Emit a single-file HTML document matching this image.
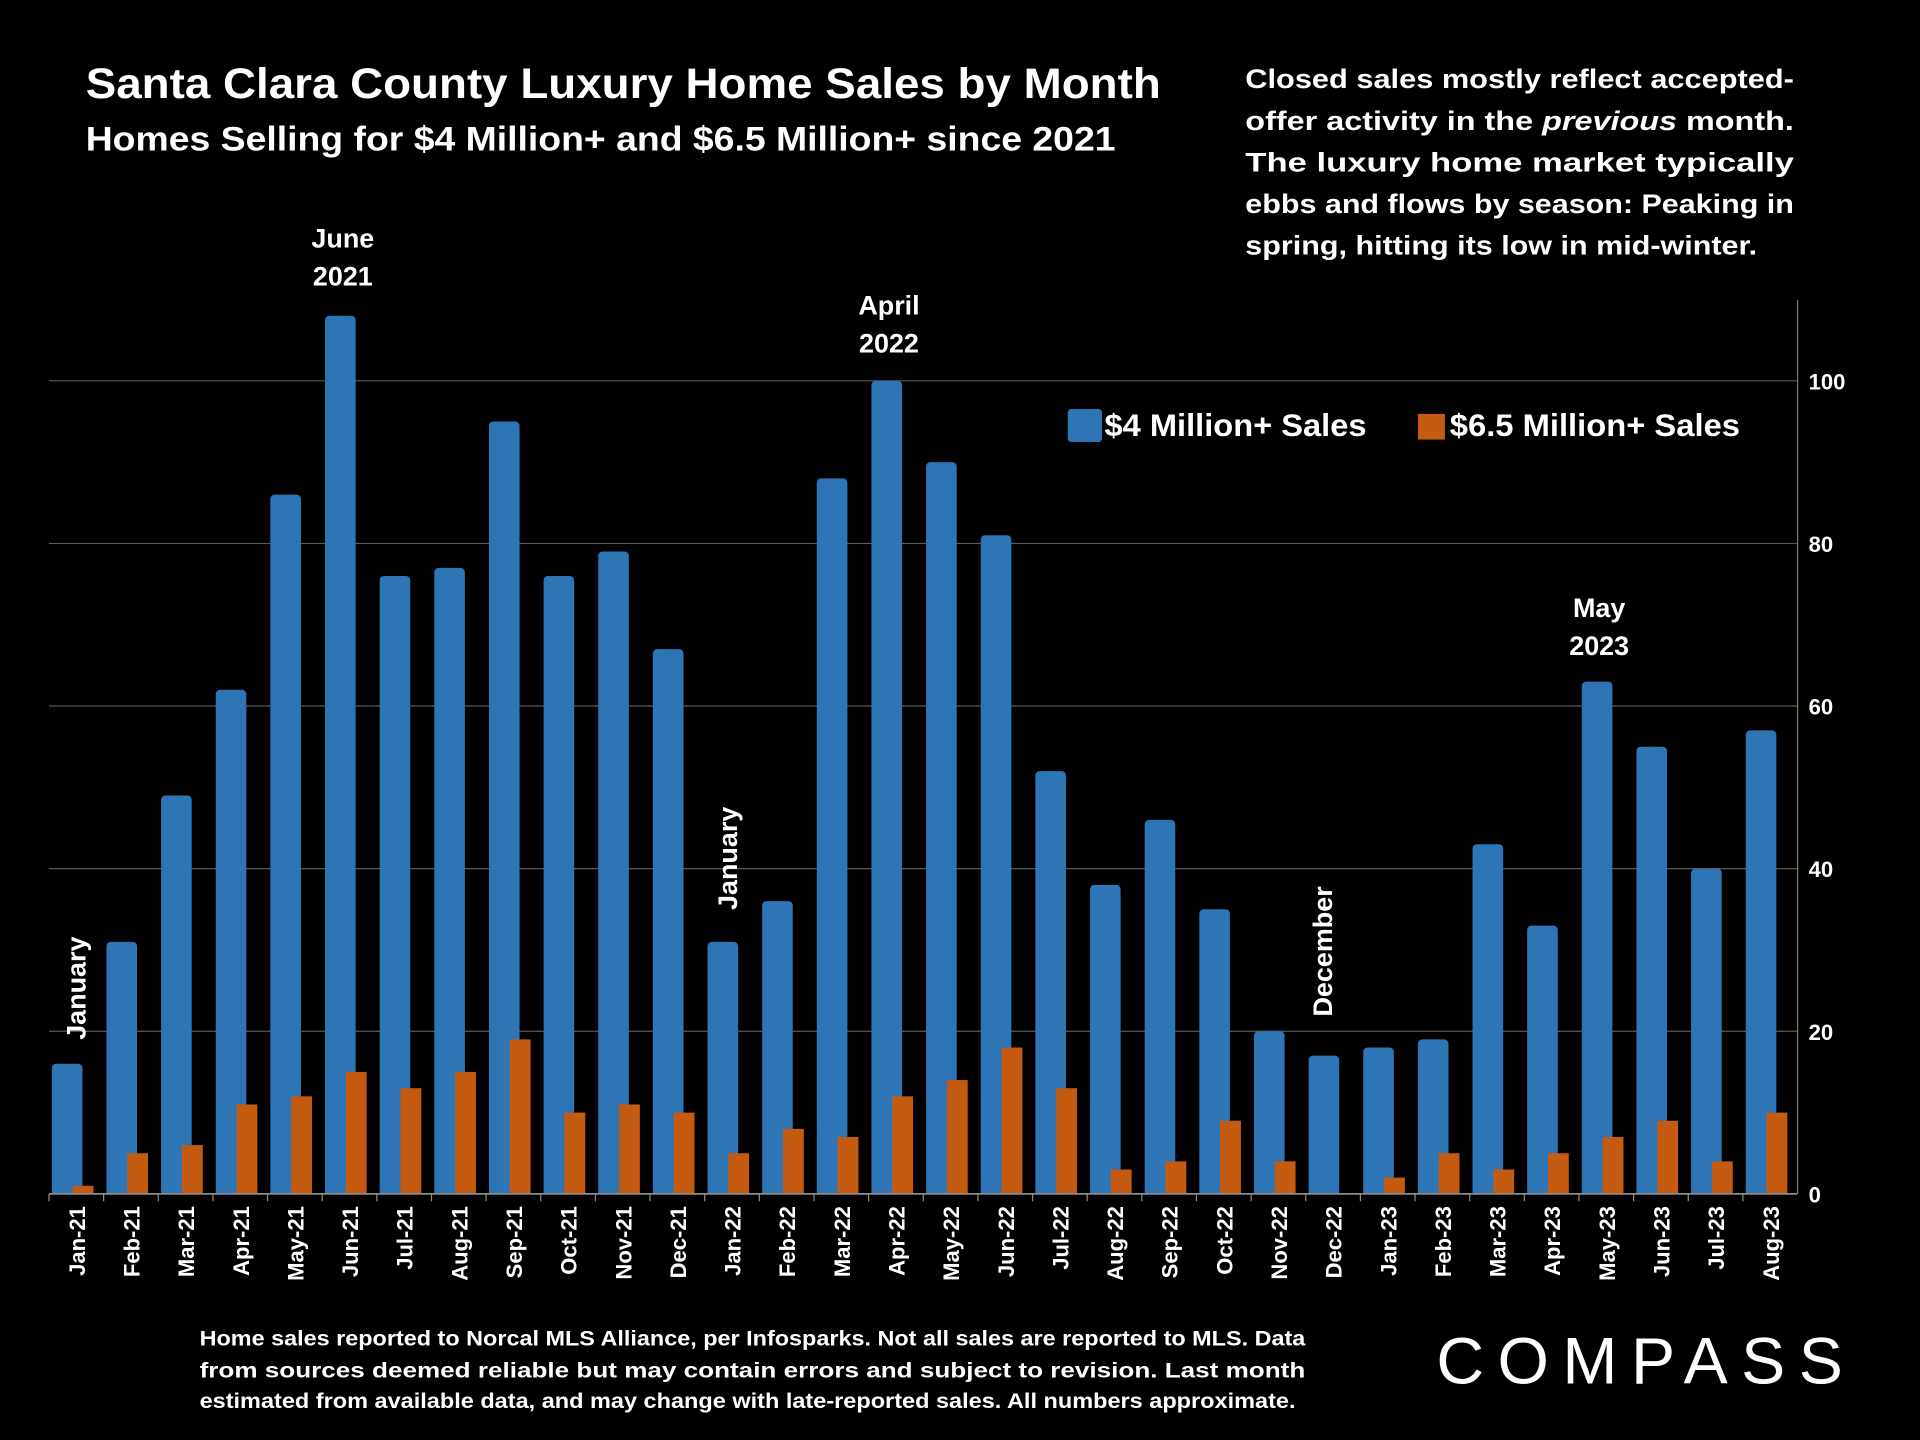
<!DOCTYPE html>
<html><head><meta charset="utf-8"><style>
html,body{margin:0;padding:0;background:#000;}
svg{display:block;}
text{font-family:"Liberation Sans",sans-serif;fill:#fff;font-weight:bold;}
</style></head><body>
<svg id="chart" width="1920" height="1440" viewBox="0 0 1568 1176" xmlns="http://www.w3.org/2000/svg">
<rect width="1568" height="1176" fill="#000"/>
<text x="70" y="80" font-size="35" textLength="878" lengthAdjust="spacingAndGlyphs">Santa Clara County Luxury Home Sales by Month</text>
<text x="70" y="123" font-size="28" textLength="841" lengthAdjust="spacingAndGlyphs">Homes Selling for $4 Million+ and $6.5 Million+ since 2021</text>
<g font-size="22">
<text x="1017" y="72" textLength="448" lengthAdjust="spacingAndGlyphs">Closed sales mostly reflect accepted-</text>
<text x="1017" y="106" textLength="448" lengthAdjust="spacingAndGlyphs">offer activity in the <tspan font-style="italic">previous</tspan> month.</text>
<text x="1017" y="140" textLength="448" lengthAdjust="spacingAndGlyphs">The luxury home market typically</text>
<text x="1017" y="174" textLength="448" lengthAdjust="spacingAndGlyphs">ebbs and flows by season: Peaking in</text>
<text x="1017" y="208" textLength="418" lengthAdjust="spacingAndGlyphs">spring, hitting its low in mid-winter.</text>
</g>
<g id="grid"></g>
<g id="bars"></g>
<g id="axis"></g>
<g font-size="22" text-anchor="middle">
<text x="280" y="202">June</text><text x="280" y="233">2021</text>
<text x="726" y="257">April</text><text x="726" y="288">2022</text>
<text x="1306" y="504">May</text><text x="1306" y="535">2023</text>
<text transform="translate(70,807) rotate(-90)">January</text>
<text transform="translate(602,701) rotate(-90)">January</text>
<text transform="translate(1088,777) rotate(-90)">December</text>
</g>
<g font-size="26">
<rect x="872" y="334" width="28" height="27" rx="3" fill="#2e75b6"/>
<text x="902" y="356" textLength="214" lengthAdjust="spacingAndGlyphs">$4 Million+ Sales</text>
<rect x="1158" y="338" width="22" height="21" fill="#c55a11"/>
<text x="1184" y="356" textLength="237" lengthAdjust="spacingAndGlyphs">$6.5 Million+ Sales</text>
</g>
<g font-size="17.5">
<text x="163" y="1099" textLength="903" lengthAdjust="spacingAndGlyphs">Home sales reported to Norcal MLS Alliance, per Infosparks. Not all sales are reported to MLS. Data</text>
<text x="163" y="1125" textLength="903" lengthAdjust="spacingAndGlyphs">from sources deemed reliable but may contain errors and subject to revision.  Last month</text>
<text x="163" y="1150" textLength="895" lengthAdjust="spacingAndGlyphs">estimated from available data, and may change with late-reported sales. All numbers approximate.</text>
</g>
<text x="1173" y="1130" font-size="54" font-weight="normal" style="font-weight:normal" textLength="332" lengthAdjust="spacing">COMPASS</text>
</svg>
<script>
const categories=["Jan-21","Feb-21","Mar-21","Apr-21","May-21","Jun-21","Jul-21","Aug-21","Sep-21","Oct-21","Nov-21","Dec-21","Jan-22","Feb-22","Mar-22","Apr-22","May-22","Jun-22","Jul-22","Aug-22","Sep-22","Oct-22","Nov-22","Dec-22","Jan-23","Feb-23","Mar-23","Apr-23","May-23","Jun-23","Jul-23","Aug-23"];
const sales4m=[16,31,49,62,86,108,76,77,95,76,79,67,31,36,88,100,90,81,52,38,46,35,20,17,18,19,43,33,63,55,40,57];
const sales65m=[1,5,6,11,12,15,13,15,19,10,11,10,5,8,7,12,14,18,13,3,4,9,4,0,2,5,3,5,7,9,4,10];
const yTicks=[0,20,40,60,80,100];
const NS="http://www.w3.org/2000/svg";
const X0=40,X1=1468,Y0=975,Y100=311;
const bw=(X1-X0)/categories.length;
function xc(i){return X0+bw*(i+0.5);}
function y(v){return Y0-(Y0-Y100)*v/100;}
function mk(tag,attrs,parent){const e=document.createElementNS(NS,tag);for(const k in attrs)e.setAttribute(k,attrs[k]);parent.appendChild(e);return e;}
const grid=document.getElementById('grid'),bars=document.getElementById('bars'),axis=document.getElementById('axis');
yTicks.forEach(t=>{
  if(t>0){const l=mk('line',{x1:X0,x2:X1,y1:y(t),y2:y(t),stroke:'#595959','stroke-width':1},grid);
  
  }
  const tx=mk('text',{x:1477,y:y(t)+7,'font-size':18,'font-weight':'normal'},axis);
  tx.textContent=t;
  
  
});
const ax=mk('line',{x1:X1,x2:X1,y1:245,y2:Y0,stroke:'#7f7f60','stroke-width':1},axis);


const bx=mk('line',{x1:X0,x2:X1,y1:Y0,y2:Y0,stroke:'#8c8c8c','stroke-width':1.5},axis);


categories.forEach((c,i)=>{
  const cx=xc(i);
  const h=Y0-y(sales4m[i]);
  const b=mk('path',{d:`M${cx-20},${Y0} V${y(sales4m[i])+4} Q${cx-20},${y(sales4m[i])} ${cx-16},${y(sales4m[i])} H${cx+1} Q${cx+5},${y(sales4m[i])} ${cx+5},${y(sales4m[i])+4} V${Y0} Z`,fill:'#2e75b6'},bars);
  
  
  if(sales65m[i]>0){const o=mk('rect',{x:cx-3,y:y(sales65m[i]),width:17,height:Y0-y(sales65m[i]),fill:'#c55a11'},bars);
  
  }
  const tk=mk('line',{x1:X0+bw*i,x2:X0+bw*i,y1:Y0,y2:Y0+6,stroke:'#8c8c8c'},axis);
  
  
  const t=mk('text',{transform:`translate(${cx+7},${Y0+10}) rotate(-90)`,'text-anchor':'end','font-size':18},axis);
  t.textContent=c;
  
  
});
</script>
</body></html>
